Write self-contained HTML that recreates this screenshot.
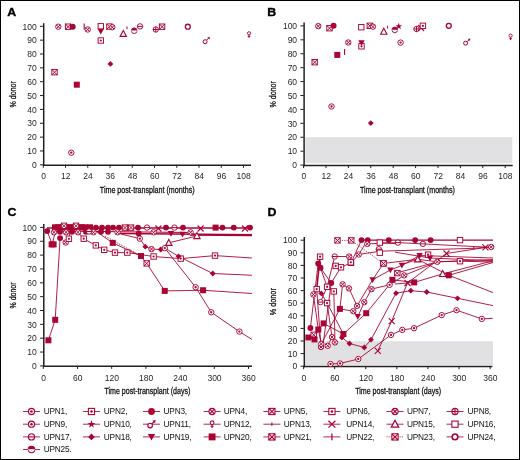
<!DOCTYPE html>
<html><head><meta charset="utf-8"><style>
html,body{margin:0;padding:0;background:#fff;width:520px;height:460px;overflow:hidden}
svg text{font-family:"Liberation Sans",sans-serif}
</style></head><body>
<svg width="520" height="460" viewBox="0 0 520 460" style="position:absolute;left:0;top:0;will-change:transform">
<defs>
<g id="m1"><circle r="2.7" fill="#fff" stroke="#a80434" stroke-width="0.95"/><circle r="1.15" fill="#a80434"/></g>
<g id="m2"><rect x="-2.7" y="-2.7" width="5.4" height="5.4" fill="#fff" stroke="#a80434" stroke-width="0.95"/><circle r="1.1" fill="#a80434"/></g>
<g id="m3"><circle r="2.95" fill="#a80434"/></g>
<g id="m4"><circle r="2.7" fill="#fff" stroke="#a80434" stroke-width="0.95"/><path d="M-1.8-1.8L1.8 1.8M-1.8 1.8L1.8-1.8" stroke="#a80434" stroke-width="1"/></g>
<g id="m8"><circle r="2.7" fill="#fff" stroke="#a80434" stroke-width="0.95"/><path d="M-2.7 0H2.7M0-2.7V2.7" stroke="#a80434" stroke-width="1"/></g>
<g id="m5"><rect x="-2.7" y="-2.7" width="5.4" height="5.4" fill="#fff" stroke="#a80434" stroke-width="0.95"/><path d="M-2.7-2.7L2.7 2.7M-2.7 2.7L2.7-2.7" stroke="#a80434" stroke-width="1"/></g>
<g id="m10"><path d="M0-3.6L0.85-1.1H3.4L1.35 0.45L2.1 3L0 1.45L-2.1 3L-1.35 0.45L-3.4-1.1H-0.85Z" fill="#a80434"/></g>
<g id="m11"><circle cx="-1.2" cy="1.2" r="2" fill="#fff" stroke="#a80434" stroke-width="1"/><path d="M0.3-0.3L2.6-2.6" stroke="#a80434" stroke-width="1" fill="none"/><path d="M3.6-3.6L0.9-3.1L3.1-0.9Z" fill="#a80434"/></g>
<g id="m12"><circle cy="-1.3" r="1.6" fill="#fff" stroke="#a80434" stroke-width="0.9"/><path d="M0 0.3V3.2M-1.3 1.8H1.3" stroke="#a80434" stroke-width="1"/></g>
<g id="m13"><path d="M0-1.4V1.4" stroke="#a80434" stroke-width="1"/></g>
<g id="m14"><path d="M-3-3L3 3M-3 3L3-3" stroke="#a80434" stroke-width="1.1"/></g>
<g id="m15"><path d="M0-3.4L3.2 2.6H-3.2Z" fill="#fff" stroke="#a80434" stroke-width="1.1"/></g>
<g id="m16"><rect x="-2.7" y="-2.7" width="5.4" height="5.4" fill="#fff" stroke="#a80434" stroke-width="0.95"/></g>
<g id="m17"><circle r="2.7" fill="#fff" stroke="#a80434" stroke-width="0.95"/><path d="M-2.7 0H2.7" stroke="#a80434" stroke-width="1"/></g>
<g id="m18"><path d="M0-2.9L2.9 0L0 2.9L-2.9 0Z" fill="#a80434"/></g>
<g id="m19"><path d="M-3.2-2.6H3.2L0 3.2Z" fill="#a80434"/></g>
<g id="m20"><rect x="-3" y="-3" width="6" height="6" fill="#a80434"/></g>
<g id="m22"><path d="M0-3V3" stroke="#a80434" stroke-width="1.1"/></g>
<g id="m24"><circle r="2.45" fill="#fff" stroke="#a80434" stroke-width="1.35"/></g>
<g id="m25"><circle r="2.8" fill="#fff" stroke="#a80434" stroke-width="0.95"/><path d="M-2.8 0A2.8 2.8 0 0 1 2.8 0Z" fill="#a80434"/><path d="M-3 0.3H3" stroke="#fff" stroke-width="0.8"/></g>
</defs>
<rect x="0.5" y="0.5" width="519" height="459" fill="#fff" stroke="#000" stroke-width="1"/>
<path d="M40 164.8H43.3" stroke="#231f20" stroke-width="1"/>
<text x="36.7" y="168" font-size="8.5" text-anchor="end" font-weight="normal" fill="#231f20">0</text>
<path d="M40 150.95H43.3" stroke="#231f20" stroke-width="1"/>
<text x="36.7" y="154.15" font-size="8.5" text-anchor="end" font-weight="normal" fill="#231f20">10</text>
<path d="M40 137.1H43.3" stroke="#231f20" stroke-width="1"/>
<text x="36.7" y="140.3" font-size="8.5" text-anchor="end" font-weight="normal" fill="#231f20">20</text>
<path d="M40 123.25H43.3" stroke="#231f20" stroke-width="1"/>
<text x="36.7" y="126.45" font-size="8.5" text-anchor="end" font-weight="normal" fill="#231f20">30</text>
<path d="M40 109.4H43.3" stroke="#231f20" stroke-width="1"/>
<text x="36.7" y="112.6" font-size="8.5" text-anchor="end" font-weight="normal" fill="#231f20">40</text>
<path d="M40 95.55H43.3" stroke="#231f20" stroke-width="1"/>
<text x="36.7" y="98.75" font-size="8.5" text-anchor="end" font-weight="normal" fill="#231f20">50</text>
<path d="M40 81.7H43.3" stroke="#231f20" stroke-width="1"/>
<text x="36.7" y="84.9" font-size="8.5" text-anchor="end" font-weight="normal" fill="#231f20">60</text>
<path d="M40 67.85H43.3" stroke="#231f20" stroke-width="1"/>
<text x="36.7" y="71.05" font-size="8.5" text-anchor="end" font-weight="normal" fill="#231f20">70</text>
<path d="M40 54H43.3" stroke="#231f20" stroke-width="1"/>
<text x="36.7" y="57.2" font-size="8.5" text-anchor="end" font-weight="normal" fill="#231f20">80</text>
<path d="M40 40.15H43.3" stroke="#231f20" stroke-width="1"/>
<text x="36.7" y="43.35" font-size="8.5" text-anchor="end" font-weight="normal" fill="#231f20">90</text>
<path d="M40 26.3H43.3" stroke="#231f20" stroke-width="1"/>
<text x="36.7" y="29.5" font-size="8.5" text-anchor="end" font-weight="normal" fill="#231f20">100</text>
<path d="M43.3 164.8V167.8" stroke="#231f20" stroke-width="1"/>
<text x="43.5" y="178.9" font-size="8.5" text-anchor="middle" font-weight="normal" fill="#231f20">0</text>
<path d="M65.54 164.8V167.8" stroke="#231f20" stroke-width="1"/>
<text x="65.74" y="178.9" font-size="8.5" text-anchor="middle" font-weight="normal" fill="#231f20">12</text>
<path d="M87.79 164.8V167.8" stroke="#231f20" stroke-width="1"/>
<text x="87.99" y="178.9" font-size="8.5" text-anchor="middle" font-weight="normal" fill="#231f20">24</text>
<path d="M110.03 164.8V167.8" stroke="#231f20" stroke-width="1"/>
<text x="110.23" y="178.9" font-size="8.5" text-anchor="middle" font-weight="normal" fill="#231f20">36</text>
<path d="M132.28 164.8V167.8" stroke="#231f20" stroke-width="1"/>
<text x="132.48" y="178.9" font-size="8.5" text-anchor="middle" font-weight="normal" fill="#231f20">48</text>
<path d="M154.52 164.8V167.8" stroke="#231f20" stroke-width="1"/>
<text x="154.72" y="178.9" font-size="8.5" text-anchor="middle" font-weight="normal" fill="#231f20">60</text>
<path d="M176.77 164.8V167.8" stroke="#231f20" stroke-width="1"/>
<text x="176.97" y="178.9" font-size="8.5" text-anchor="middle" font-weight="normal" fill="#231f20">72</text>
<path d="M199.01 164.8V167.8" stroke="#231f20" stroke-width="1"/>
<text x="199.21" y="178.9" font-size="8.5" text-anchor="middle" font-weight="normal" fill="#231f20">84</text>
<path d="M221.26 164.8V167.8" stroke="#231f20" stroke-width="1"/>
<text x="221.46" y="178.9" font-size="8.5" text-anchor="middle" font-weight="normal" fill="#231f20">96</text>
<path d="M243.5 164.8V167.8" stroke="#231f20" stroke-width="1"/>
<text x="243.7" y="178.9" font-size="8.5" text-anchor="middle" font-weight="normal" fill="#231f20">108</text>
<path d="M43.7 23.2V165.9" stroke="#231f20" stroke-width="1.5"/>
<path d="M43 165.2H251" stroke="#231f20" stroke-width="1.5"/>
<text x="99.8" y="192.7" font-size="9.6" text-anchor="start" font-weight="normal" fill="#111" stroke="#111" stroke-width="0.3" textLength="94.8" lengthAdjust="spacingAndGlyphs">Time post-transplant (months)</text>
<text x="15.9" y="94.3" font-size="9.6" text-anchor="middle" font-weight="normal" fill="#111" stroke="#111" stroke-width="0.3" textLength="26.5" lengthAdjust="spacingAndGlyphs" transform="rotate(-90 15.9 94.3)">% donor</text>
<text x="7.3" y="16.1" font-size="11.7" text-anchor="start" font-weight="bold" fill="#000" stroke="#000" stroke-width="0.35" textLength="8.96" lengthAdjust="spacingAndGlyphs">A</text>
<rect x="305.3" y="137.1" width="207" height="26.1" fill="#e1e1e4"/>
<path d="M300.4 165.1H303.7" stroke="#231f20" stroke-width="1"/>
<text x="297.1" y="168.3" font-size="8.5" text-anchor="end" font-weight="normal" fill="#231f20">0</text>
<path d="M300.4 151.18H303.7" stroke="#231f20" stroke-width="1"/>
<text x="297.1" y="154.38" font-size="8.5" text-anchor="end" font-weight="normal" fill="#231f20">10</text>
<path d="M300.4 137.26H303.7" stroke="#231f20" stroke-width="1"/>
<text x="297.1" y="140.46" font-size="8.5" text-anchor="end" font-weight="normal" fill="#231f20">20</text>
<path d="M300.4 123.34H303.7" stroke="#231f20" stroke-width="1"/>
<text x="297.1" y="126.54" font-size="8.5" text-anchor="end" font-weight="normal" fill="#231f20">30</text>
<path d="M300.4 109.42H303.7" stroke="#231f20" stroke-width="1"/>
<text x="297.1" y="112.62" font-size="8.5" text-anchor="end" font-weight="normal" fill="#231f20">40</text>
<path d="M300.4 95.5H303.7" stroke="#231f20" stroke-width="1"/>
<text x="297.1" y="98.7" font-size="8.5" text-anchor="end" font-weight="normal" fill="#231f20">50</text>
<path d="M300.4 81.58H303.7" stroke="#231f20" stroke-width="1"/>
<text x="297.1" y="84.78" font-size="8.5" text-anchor="end" font-weight="normal" fill="#231f20">60</text>
<path d="M300.4 67.66H303.7" stroke="#231f20" stroke-width="1"/>
<text x="297.1" y="70.86" font-size="8.5" text-anchor="end" font-weight="normal" fill="#231f20">70</text>
<path d="M300.4 53.74H303.7" stroke="#231f20" stroke-width="1"/>
<text x="297.1" y="56.94" font-size="8.5" text-anchor="end" font-weight="normal" fill="#231f20">80</text>
<path d="M300.4 39.82H303.7" stroke="#231f20" stroke-width="1"/>
<text x="297.1" y="43.02" font-size="8.5" text-anchor="end" font-weight="normal" fill="#231f20">90</text>
<path d="M300.4 25.9H303.7" stroke="#231f20" stroke-width="1"/>
<text x="297.1" y="29.1" font-size="8.5" text-anchor="end" font-weight="normal" fill="#231f20">100</text>
<path d="M303.6 165.1V168.1" stroke="#231f20" stroke-width="1"/>
<text x="303.8" y="179.1" font-size="8.5" text-anchor="middle" font-weight="normal" fill="#231f20">0</text>
<path d="M326 165.1V168.1" stroke="#231f20" stroke-width="1"/>
<text x="326.2" y="179.1" font-size="8.5" text-anchor="middle" font-weight="normal" fill="#231f20">12</text>
<path d="M348.4 165.1V168.1" stroke="#231f20" stroke-width="1"/>
<text x="348.6" y="179.1" font-size="8.5" text-anchor="middle" font-weight="normal" fill="#231f20">24</text>
<path d="M370.8 165.1V168.1" stroke="#231f20" stroke-width="1"/>
<text x="371" y="179.1" font-size="8.5" text-anchor="middle" font-weight="normal" fill="#231f20">36</text>
<path d="M393.2 165.1V168.1" stroke="#231f20" stroke-width="1"/>
<text x="393.4" y="179.1" font-size="8.5" text-anchor="middle" font-weight="normal" fill="#231f20">48</text>
<path d="M415.6 165.1V168.1" stroke="#231f20" stroke-width="1"/>
<text x="415.8" y="179.1" font-size="8.5" text-anchor="middle" font-weight="normal" fill="#231f20">60</text>
<path d="M438 165.1V168.1" stroke="#231f20" stroke-width="1"/>
<text x="438.2" y="179.1" font-size="8.5" text-anchor="middle" font-weight="normal" fill="#231f20">72</text>
<path d="M460.4 165.1V168.1" stroke="#231f20" stroke-width="1"/>
<text x="460.6" y="179.1" font-size="8.5" text-anchor="middle" font-weight="normal" fill="#231f20">84</text>
<path d="M482.8 165.1V168.1" stroke="#231f20" stroke-width="1"/>
<text x="483" y="179.1" font-size="8.5" text-anchor="middle" font-weight="normal" fill="#231f20">96</text>
<path d="M505.2 165.1V168.1" stroke="#231f20" stroke-width="1"/>
<text x="505.4" y="179.1" font-size="8.5" text-anchor="middle" font-weight="normal" fill="#231f20">108</text>
<path d="M304.1 22.6V166.2" stroke="#231f20" stroke-width="1.5"/>
<path d="M303.4 165.5H512.7" stroke="#231f20" stroke-width="1.5"/>
<text x="360" y="192.9" font-size="9.6" text-anchor="start" font-weight="normal" fill="#111" stroke="#111" stroke-width="0.3" textLength="95" lengthAdjust="spacingAndGlyphs">Time post-transplant (months)</text>
<text x="275.9" y="94.3" font-size="9.6" text-anchor="middle" font-weight="normal" fill="#111" stroke="#111" stroke-width="0.3" textLength="26.5" lengthAdjust="spacingAndGlyphs" transform="rotate(-90 275.9 94.3)">% donor</text>
<text x="267.3" y="15.6" font-size="11.7" text-anchor="start" font-weight="bold" fill="#000" stroke="#000" stroke-width="0.35" textLength="8.96" lengthAdjust="spacingAndGlyphs">B</text>
<path d="M40.1 365.9H43.4" stroke="#231f20" stroke-width="1"/>
<text x="36.8" y="369.1" font-size="8.5" text-anchor="end" font-weight="normal" fill="#231f20">0</text>
<path d="M40.1 352.05H43.4" stroke="#231f20" stroke-width="1"/>
<text x="36.8" y="355.25" font-size="8.5" text-anchor="end" font-weight="normal" fill="#231f20">10</text>
<path d="M40.1 338.2H43.4" stroke="#231f20" stroke-width="1"/>
<text x="36.8" y="341.4" font-size="8.5" text-anchor="end" font-weight="normal" fill="#231f20">20</text>
<path d="M40.1 324.35H43.4" stroke="#231f20" stroke-width="1"/>
<text x="36.8" y="327.55" font-size="8.5" text-anchor="end" font-weight="normal" fill="#231f20">30</text>
<path d="M40.1 310.5H43.4" stroke="#231f20" stroke-width="1"/>
<text x="36.8" y="313.7" font-size="8.5" text-anchor="end" font-weight="normal" fill="#231f20">40</text>
<path d="M40.1 296.65H43.4" stroke="#231f20" stroke-width="1"/>
<text x="36.8" y="299.85" font-size="8.5" text-anchor="end" font-weight="normal" fill="#231f20">50</text>
<path d="M40.1 282.8H43.4" stroke="#231f20" stroke-width="1"/>
<text x="36.8" y="286" font-size="8.5" text-anchor="end" font-weight="normal" fill="#231f20">60</text>
<path d="M40.1 268.95H43.4" stroke="#231f20" stroke-width="1"/>
<text x="36.8" y="272.15" font-size="8.5" text-anchor="end" font-weight="normal" fill="#231f20">70</text>
<path d="M40.1 255.1H43.4" stroke="#231f20" stroke-width="1"/>
<text x="36.8" y="258.3" font-size="8.5" text-anchor="end" font-weight="normal" fill="#231f20">80</text>
<path d="M40.1 241.25H43.4" stroke="#231f20" stroke-width="1"/>
<text x="36.8" y="244.45" font-size="8.5" text-anchor="end" font-weight="normal" fill="#231f20">90</text>
<path d="M40.1 227.4H43.4" stroke="#231f20" stroke-width="1"/>
<text x="36.8" y="230.6" font-size="8.5" text-anchor="end" font-weight="normal" fill="#231f20">100</text>
<path d="M43.3 365.9V368.9" stroke="#231f20" stroke-width="1"/>
<text x="43.5" y="380.9" font-size="8.5" text-anchor="middle" font-weight="normal" fill="#231f20">0</text>
<path d="M77.5 365.9V368.9" stroke="#231f20" stroke-width="1"/>
<text x="77.7" y="380.9" font-size="8.5" text-anchor="middle" font-weight="normal" fill="#231f20">60</text>
<path d="M111.7 365.9V368.9" stroke="#231f20" stroke-width="1"/>
<text x="111.9" y="380.9" font-size="8.5" text-anchor="middle" font-weight="normal" fill="#231f20">120</text>
<path d="M145.9 365.9V368.9" stroke="#231f20" stroke-width="1"/>
<text x="146.1" y="380.9" font-size="8.5" text-anchor="middle" font-weight="normal" fill="#231f20">180</text>
<path d="M180.1 365.9V368.9" stroke="#231f20" stroke-width="1"/>
<text x="180.3" y="380.9" font-size="8.5" text-anchor="middle" font-weight="normal" fill="#231f20">240</text>
<path d="M214.3 365.9V368.9" stroke="#231f20" stroke-width="1"/>
<text x="214.5" y="380.9" font-size="8.5" text-anchor="middle" font-weight="normal" fill="#231f20">300</text>
<path d="M248.5 365.9V368.9" stroke="#231f20" stroke-width="1"/>
<text x="248.7" y="380.9" font-size="8.5" text-anchor="middle" font-weight="normal" fill="#231f20">360</text>
<path d="M43.8 224.1V367" stroke="#231f20" stroke-width="1.5"/>
<path d="M43.1 366.3H252" stroke="#231f20" stroke-width="1.5"/>
<text x="104.4" y="393.5" font-size="9.6" text-anchor="start" font-weight="normal" fill="#111" stroke="#111" stroke-width="0.3" textLength="86" lengthAdjust="spacingAndGlyphs">Time post-transplant (days)</text>
<text x="16.1" y="295.5" font-size="9.6" text-anchor="middle" font-weight="normal" fill="#111" stroke="#111" stroke-width="0.3" textLength="26.1" lengthAdjust="spacingAndGlyphs" transform="rotate(-90 16.1 295.5)">% donor</text>
<text x="7.6" y="216" font-size="11.7" text-anchor="start" font-weight="bold" fill="#000" stroke="#000" stroke-width="0.35" textLength="8.96" lengthAdjust="spacingAndGlyphs">C</text>
<rect x="305.3" y="341.2" width="187.7" height="23.8" fill="#e1e1e4"/>
<path d="M300.6 366.2H303.9" stroke="#231f20" stroke-width="1"/>
<text x="297.3" y="369.4" font-size="8.5" text-anchor="end" font-weight="normal" fill="#231f20">0</text>
<path d="M300.6 353.6H303.9" stroke="#231f20" stroke-width="1"/>
<text x="297.3" y="356.8" font-size="8.5" text-anchor="end" font-weight="normal" fill="#231f20">10</text>
<path d="M300.6 341H303.9" stroke="#231f20" stroke-width="1"/>
<text x="297.3" y="344.2" font-size="8.5" text-anchor="end" font-weight="normal" fill="#231f20">20</text>
<path d="M300.6 328.4H303.9" stroke="#231f20" stroke-width="1"/>
<text x="297.3" y="331.6" font-size="8.5" text-anchor="end" font-weight="normal" fill="#231f20">30</text>
<path d="M300.6 315.8H303.9" stroke="#231f20" stroke-width="1"/>
<text x="297.3" y="319" font-size="8.5" text-anchor="end" font-weight="normal" fill="#231f20">40</text>
<path d="M300.6 303.2H303.9" stroke="#231f20" stroke-width="1"/>
<text x="297.3" y="306.4" font-size="8.5" text-anchor="end" font-weight="normal" fill="#231f20">50</text>
<path d="M300.6 290.6H303.9" stroke="#231f20" stroke-width="1"/>
<text x="297.3" y="293.8" font-size="8.5" text-anchor="end" font-weight="normal" fill="#231f20">60</text>
<path d="M300.6 278H303.9" stroke="#231f20" stroke-width="1"/>
<text x="297.3" y="281.2" font-size="8.5" text-anchor="end" font-weight="normal" fill="#231f20">70</text>
<path d="M300.6 265.4H303.9" stroke="#231f20" stroke-width="1"/>
<text x="297.3" y="268.6" font-size="8.5" text-anchor="end" font-weight="normal" fill="#231f20">80</text>
<path d="M300.6 252.8H303.9" stroke="#231f20" stroke-width="1"/>
<text x="297.3" y="256" font-size="8.5" text-anchor="end" font-weight="normal" fill="#231f20">90</text>
<path d="M300.6 240.2H303.9" stroke="#231f20" stroke-width="1"/>
<text x="297.3" y="243.4" font-size="8.5" text-anchor="end" font-weight="normal" fill="#231f20">100</text>
<path d="M303.6 366.2V369.2" stroke="#231f20" stroke-width="1"/>
<text x="303.8" y="380.9" font-size="8.5" text-anchor="middle" font-weight="normal" fill="#231f20">0</text>
<path d="M334.68 366.2V369.2" stroke="#231f20" stroke-width="1"/>
<text x="334.88" y="380.9" font-size="8.5" text-anchor="middle" font-weight="normal" fill="#231f20">60</text>
<path d="M365.77 366.2V369.2" stroke="#231f20" stroke-width="1"/>
<text x="365.97" y="380.9" font-size="8.5" text-anchor="middle" font-weight="normal" fill="#231f20">120</text>
<path d="M396.85 366.2V369.2" stroke="#231f20" stroke-width="1"/>
<text x="397.05" y="380.9" font-size="8.5" text-anchor="middle" font-weight="normal" fill="#231f20">180</text>
<path d="M427.93 366.2V369.2" stroke="#231f20" stroke-width="1"/>
<text x="428.13" y="380.9" font-size="8.5" text-anchor="middle" font-weight="normal" fill="#231f20">240</text>
<path d="M459.02 366.2V369.2" stroke="#231f20" stroke-width="1"/>
<text x="459.22" y="380.9" font-size="8.5" text-anchor="middle" font-weight="normal" fill="#231f20">300</text>
<path d="M490.1 366.2V369.2" stroke="#231f20" stroke-width="1"/>
<text x="490.3" y="380.9" font-size="8.5" text-anchor="middle" font-weight="normal" fill="#231f20">360</text>
<path d="M304.3 237V367.3" stroke="#231f20" stroke-width="1.5"/>
<path d="M303.6 366.6H492.4" stroke="#231f20" stroke-width="1.5"/>
<text x="355.2" y="393.5" font-size="9.6" text-anchor="start" font-weight="normal" fill="#111" stroke="#111" stroke-width="0.3" textLength="85.9" lengthAdjust="spacingAndGlyphs">Time post-transplant (days)</text>
<text x="276.3" y="301.7" font-size="9.6" text-anchor="middle" font-weight="normal" fill="#111" stroke="#111" stroke-width="0.3" textLength="27" lengthAdjust="spacingAndGlyphs" transform="rotate(-90 276.3 301.7)">% donor</text>
<text x="267.6" y="216.1" font-size="11.7" text-anchor="start" font-weight="bold" fill="#000" stroke="#000" stroke-width="0.35" textLength="8.96" lengthAdjust="spacingAndGlyphs">D</text>
<use href="#m4" x="58.3" y="26.7"/>
<use href="#m5" x="68.1" y="26.7"/>
<use href="#m3" x="72.7" y="26.7"/>
<use href="#m22" x="84.2" y="26.4"/>
<use href="#m4" x="87.7" y="29.5"/>
<use href="#m16" x="100.8" y="26.3"/>
<use href="#m19" x="100.8" y="31.3"/>
<use href="#m2" x="100.8" y="40.5"/>
<use href="#m5" x="109.4" y="26.6"/>
<use href="#m4" x="112.3" y="27.2"/>
<use href="#m15" x="123.3" y="33.8"/>
<use href="#m13" x="127" y="27.8"/>
<use href="#m25" x="134.2" y="30.7"/>
<use href="#m17" x="140" y="26.4"/>
<use href="#m8" x="155.8" y="29.5"/>
<use href="#m5" x="162.1" y="26.7"/>
<use href="#m24" x="187.8" y="26.7"/>
<use href="#m11" x="206.3" y="40.5"/>
<use href="#m12" x="249" y="34.6"/>
<use href="#m18" x="110.4" y="63.9"/>
<use href="#m5" x="54.5" y="72.2"/>
<use href="#m20" x="76.8" y="84.7"/>
<use href="#m1" x="71.3" y="152.7"/>
<use href="#m4" x="318.3" y="26.1"/>
<use href="#m5" x="329.5" y="28.2"/>
<use href="#m3" x="333.6" y="25.8"/>
<use href="#m16" x="361.3" y="27.2"/>
<use href="#m4" x="348.3" y="42.5"/>
<use href="#m2" x="361.5" y="46.3"/>
<use href="#m19" x="361.5" y="42.8"/>
<use href="#m22" x="344.6" y="52"/>
<use href="#m20" x="337.3" y="54.9"/>
<use href="#m5" x="369.8" y="25.8"/>
<use href="#m4" x="372.9" y="26.65"/>
<use href="#m15" x="383.8" y="31.6"/>
<use href="#m13" x="387.6" y="27.2"/>
<use href="#m25" x="394.8" y="29.9"/>
<use href="#m10" x="398.8" y="26.3"/>
<use href="#m1" x="400.6" y="42.6"/>
<use href="#m8" x="416.5" y="29"/>
<use href="#m14" x="421.1" y="28"/>
<use href="#m2" x="422.9" y="25.8"/>
<use href="#m24" x="448.8" y="25.8"/>
<use href="#m11" x="466.8" y="42"/>
<use href="#m12" x="510.6" y="36.9"/>
<use href="#m5" x="314.7" y="62.2"/>
<use href="#m1" x="331.5" y="106.5"/>
<use href="#m18" x="370.8" y="123.1"/>
<path d="M48.4 340.3 L55.2 319.8 L60.1 238.1" fill="none" stroke="#a80434" stroke-width="0.9" stroke-opacity="1.0"/>
<path d="M47.2 231.1 L52.2 244.4 L55 233" fill="none" stroke="#a80434" stroke-width="0.9" stroke-opacity="1.0"/>
<path d="M70 232 L68.9 238.75" fill="none" stroke="#a80434" stroke-width="0.9" stroke-opacity="1.0"/>
<path d="M78 232 L83.7 238.7 L95.8 245.4 L104.2 249.8 L115 252.6 L127.3 252.6 L153.6 256.5 L180.7 258.6 L215 255.6 L251.9 258" fill="none" stroke="#a80434" stroke-width="0.9" stroke-opacity="1.0"/>
<path d="M97 232 L112.75 242.9 L141 256 L146.7 263.4 L164.75 290.9 L203.1 290.25 L251.9 293.5" fill="none" stroke="#a80434" stroke-width="0.9" stroke-opacity="1.0"/>
<path d="M105 236 L141 256" fill="none" stroke="#a80434" stroke-width="0.9" stroke-opacity="1.0" stroke-dasharray="1 1"/>
<path d="M121 234 L139.8 238.65 L145.3 246.7 L151.5 249.1 L160.7 249.5 L164.8 248.1 L168.8 242.8 L196.9 236" fill="none" stroke="#a80434" stroke-width="0.9" stroke-opacity="1.0"/>
<path d="M164.8 248.1 L178.5 256.3 L212.75 273.5 L251.9 275.25" fill="none" stroke="#a80434" stroke-width="0.9" stroke-opacity="1.0"/>
<path d="M164.8 248.1 L195.6 287.25 L211.25 312.25 L239.4 331.6 L251.9 339.4" fill="none" stroke="#a80434" stroke-width="0.9" stroke-opacity="1.0"/>
<path d="M47 228 L252 228" fill="none" stroke="#a80434" stroke-width="1.6" stroke-opacity="1.0"/>
<path d="M52 231 L190 232.5" fill="none" stroke="#a80434" stroke-width="1.2" stroke-opacity="1.0"/>
<path d="M120 233.5 L252 234.8" fill="none" stroke="#a80434" stroke-width="1.4" stroke-opacity="1.0"/>
<path d="M190 235.2 L252 235.6" fill="none" stroke="#a80434" stroke-width="1.2" stroke-opacity="1.0"/>
<use href="#m3" x="96" y="227.6"/>
<use href="#m3" x="102" y="227.6"/>
<use href="#m3" x="108" y="227.6"/>
<use href="#m3" x="113" y="227.6"/>
<use href="#m3" x="119" y="227.6"/>
<use href="#m3" x="127" y="227.6"/>
<use href="#m3" x="138" y="227.6"/>
<use href="#m3" x="166" y="227.6"/>
<use href="#m3" x="183" y="227.6"/>
<use href="#m3" x="222.5" y="227.6"/>
<use href="#m3" x="233.75" y="227.6"/>
<use href="#m3" x="250" y="227.6"/>
<use href="#m20" x="55" y="227.3"/>
<use href="#m20" x="61" y="227.3"/>
<use href="#m20" x="67" y="227.3"/>
<use href="#m20" x="73" y="227.3"/>
<use href="#m20" x="79" y="227.3"/>
<use href="#m20" x="85" y="227.3"/>
<use href="#m20" x="90" y="227.3"/>
<use href="#m20" x="58" y="227.3"/>
<use href="#m20" x="70" y="227.3"/>
<use href="#m20" x="82" y="227.3"/>
<use href="#m20" x="215.6" y="227.6"/>
<use href="#m17" x="147" y="227.6"/>
<use href="#m17" x="174.4" y="227.6"/>
<use href="#m14" x="158.4" y="228.5"/>
<use href="#m14" x="200.6" y="228.5"/>
<use href="#m14" x="245" y="228.5"/>
<use href="#m5" x="125" y="227.6"/>
<use href="#m5" x="131" y="227.6"/>
<use href="#m4" x="54" y="232.3"/>
<use href="#m4" x="66" y="232.3"/>
<use href="#m4" x="78" y="232.3"/>
<use href="#m4" x="93.5" y="232.3"/>
<use href="#m4" x="117.5" y="232.3"/>
<use href="#m4" x="153.6" y="232.3"/>
<use href="#m4" x="190.6" y="232.3"/>
<use href="#m3" x="60" y="231.8"/>
<use href="#m3" x="72" y="231.8"/>
<use href="#m3" x="86" y="231.8"/>
<use href="#m3" x="101" y="231.8"/>
<use href="#m3" x="108" y="231.8"/>
<use href="#m5" x="64" y="225.8"/>
<use href="#m5" x="76" y="225.8"/>
<use href="#m17" x="89" y="231.5"/>
<use href="#m3" x="138.7" y="233.5"/>
<use href="#m19" x="171" y="233.5"/>
<use href="#m19" x="182.5" y="234.4"/>
<use href="#m15" x="196.9" y="236"/>
<use href="#m3" x="47.2" y="231.1"/>
<use href="#m20" x="53.6" y="244.4"/>
<use href="#m20" x="51.6" y="244.4"/>
<use href="#m20" x="48.4" y="340.3"/>
<use href="#m20" x="55.2" y="319.8"/>
<use href="#m3" x="60.1" y="238.1"/>
<use href="#m4" x="65.75" y="242.5"/>
<use href="#m2" x="68.9" y="238.75"/>
<use href="#m2" x="83.7" y="238.7"/>
<use href="#m2" x="95.8" y="245.4"/>
<use href="#m2" x="104.2" y="249.8"/>
<use href="#m2" x="115" y="252.6"/>
<use href="#m2" x="127.3" y="252.6"/>
<use href="#m2" x="153.6" y="256.5"/>
<use href="#m2" x="180.7" y="258.6"/>
<use href="#m2" x="215" y="255.6"/>
<use href="#m20" x="112.75" y="242.9"/>
<use href="#m20" x="141" y="256"/>
<use href="#m5" x="146.7" y="263.4"/>
<use href="#m20" x="164.75" y="290.9"/>
<use href="#m20" x="203.1" y="290.25"/>
<use href="#m18" x="145.3" y="246.7"/>
<use href="#m18" x="160.7" y="249.5"/>
<use href="#m18" x="178.5" y="256.3"/>
<use href="#m18" x="212.75" y="273.5"/>
<use href="#m1" x="139.8" y="238.65"/>
<use href="#m1" x="195.6" y="287.25"/>
<use href="#m1" x="211.25" y="312.25"/>
<use href="#m1" x="239.4" y="331.6"/>
<use href="#m4" x="151.5" y="249.1"/>
<use href="#m1" x="164.8" y="248.1"/>
<use href="#m15" x="168.8" y="242.8"/>
<path d="M337.5 240.4 L351.3 240.4 L383.3 263.4" fill="none" stroke="#a80434" stroke-width="0.9" stroke-opacity="1.0" stroke-dasharray="1 1.3"/>
<path d="M361.5 240.1 L493 240.1" fill="none" stroke="#a80434" stroke-width="1.4" stroke-opacity="1.0"/>
<path d="M397.9 242.6 L422.9 243.9 L491 247.4" fill="none" stroke="#a80434" stroke-width="0.9" stroke-opacity="1.0"/>
<path d="M367.3 243.9 L397.9 242.6" fill="none" stroke="#a80434" stroke-width="0.9" stroke-opacity="1.0"/>
<path d="M379.8 242.6 L400 244" fill="none" stroke="#a80434" stroke-width="0.9" stroke-opacity="1.0"/>
<path d="M330.5 364 L340.1 363.5 L358.3 359 L391 334.9 L402.3 329.9 L414 328.2 L441.7 315.1 L456.5 310.2 L481.8 318.9 L492.8 318.3" fill="none" stroke="#a80434" stroke-width="0.9" stroke-opacity="1.0"/>
<path d="M321.3 293.4 L327.1 303.1 L343.4 334 L341.9 337.5 L349.5 343.5 L364.3 347.5 L371 339.7 L396 293.2 L410.8 290.7 L426.7 292 L457.5 298.3 L493 305.6" fill="none" stroke="#a80434" stroke-width="0.9" stroke-opacity="1.0"/>
<path d="M320.1 256.7 L316.7 289.1 L313.4 294.5" fill="none" stroke="#a80434" stroke-width="1.6" stroke-opacity="1.0"/>
<path d="M318.2 263.5 L320.5 267.8 L331.2 283" fill="none" stroke="#a80434" stroke-width="0.9" stroke-opacity="1.0"/>
<path d="M318.2 263.5 L310.4 328" fill="none" stroke="#a80434" stroke-width="0.9" stroke-opacity="1.0"/>
<path d="M320.5 267.8 L327.1 286.8" fill="none" stroke="#a80434" stroke-width="0.9" stroke-opacity="1.0"/>
<path d="M331.2 283 L322.8 347" fill="none" stroke="#a80434" stroke-width="0.9" stroke-opacity="1.0"/>
<path d="M334.7 256.5 L349.2 256.5" fill="none" stroke="#a80434" stroke-width="0.9" stroke-opacity="1.0"/>
<path d="M334.7 256.5 L327.1 286.8 L320.5 302.1" fill="none" stroke="#a80434" stroke-width="0.9" stroke-opacity="1.0"/>
<path d="M331.2 283 L341 267.3 L351 262.8 L358.7 254.5 L367.7 240.1" fill="none" stroke="#a80434" stroke-width="0.9" stroke-opacity="1.0"/>
<path d="M335.7 265.9 L341 267.3" fill="none" stroke="#a80434" stroke-width="0.9" stroke-opacity="1.0"/>
<path d="M351 262.8 L361.5 240.1" fill="none" stroke="#a80434" stroke-width="0.9" stroke-opacity="1.0"/>
<path d="M358.7 254.5 L379.8 251.2 L473.8 248.3 L491.2 247" fill="none" stroke="#a80434" stroke-width="0.9" stroke-opacity="1.0"/>
<path d="M313.4 294.5 L318.3 329.5 L321.3 343.9" fill="none" stroke="#a80434" stroke-width="0.9" stroke-opacity="1.0"/>
<path d="M316.7 289.1 L321 347" fill="none" stroke="#a80434" stroke-width="0.9" stroke-opacity="1.0"/>
<path d="M308.4 337.5 L314.5 339.4 L318.3 329.5 L323.6 323.4 L343.4 334" fill="none" stroke="#a80434" stroke-width="0.9" stroke-opacity="1.0"/>
<path d="M342.6 284.3 L339.9 308.9 L321.3 343.9" fill="none" stroke="#a80434" stroke-width="0.9" stroke-opacity="1.0"/>
<path d="M339.9 308.9 L353.3 311.2 L357.8 316.5" fill="none" stroke="#a80434" stroke-width="0.9" stroke-opacity="1.0"/>
<path d="M333.8 291.4 L335 342.4" fill="none" stroke="#a80434" stroke-width="0.9" stroke-opacity="1.0"/>
<path d="M327.7 345.8 L332 337.1 L327.1 303.1" fill="none" stroke="#a80434" stroke-width="0.9" stroke-opacity="1.0"/>
<path d="M343.4 334 L366.2 313.2 L390 284.1 L392.4 279.8" fill="none" stroke="#a80434" stroke-width="0.9" stroke-opacity="1.0"/>
<path d="M342.6 284.3 L349 288.4 L357.1 305.9 L372.6 279.8 L383.5 263.4 L417.7 259.3" fill="none" stroke="#a80434" stroke-width="0.9" stroke-opacity="1.0"/>
<path d="M357.8 316.5 L364.3 302.2 L371.5 289.1 L389.6 284.8 L404.2 275.4 L437.3 261.8 L493 259.5" fill="none" stroke="#a80434" stroke-width="0.9" stroke-opacity="1.0"/>
<path d="M372.6 279.8 L390.4 270 L401.9 265.4 L419.6 255.5 L493 258" fill="none" stroke="#a80434" stroke-width="0.9" stroke-opacity="1.0"/>
<path d="M377.8 350.9 L391.7 321.1 L407.5 283 L446.5 253.5 L485.4 247.4" fill="none" stroke="#a80434" stroke-width="0.9" stroke-opacity="1.0"/>
<path d="M395 284 L414.2 282.4 L442.7 273.9 L493 260.8" fill="none" stroke="#a80434" stroke-width="0.9" stroke-opacity="1.0"/>
<path d="M417.7 259.3 L448.8 275.3 L493 292.6" fill="none" stroke="#a80434" stroke-width="0.9" stroke-opacity="1.0"/>
<path d="M448.8 275.3 L493 262.5" fill="none" stroke="#a80434" stroke-width="0.9" stroke-opacity="1.0"/>
<path d="M395 252.2 L430 258 L493 260.8" fill="none" stroke="#a80434" stroke-width="0.9" stroke-opacity="1.0"/>
<path d="M401.7 264.7 L417.7 259.3 L437.3 261.8 L460 261.2 L493 262" fill="none" stroke="#a80434" stroke-width="0.9" stroke-opacity="1.0"/>
<path d="M392.4 279.8 L414.2 282.4" fill="none" stroke="#a80434" stroke-width="0.9" stroke-opacity="1.0"/>
<path d="M397.3 272.8 L437.3 261.8" fill="none" stroke="#a80434" stroke-width="0.9" stroke-opacity="1.0"/>
<path d="M441 300 L473.8 248.3" fill="none" stroke="#a80434" stroke-width="0" stroke-opacity="1.0"/>
<use href="#m5" x="337.5" y="240.4"/>
<use href="#m5" x="351.3" y="240.4"/>
<use href="#m5" x="383.3" y="263.4"/>
<use href="#m3" x="361.5" y="240.1"/>
<use href="#m3" x="367.7" y="240.1"/>
<use href="#m3" x="388.8" y="240.1"/>
<use href="#m3" x="415.2" y="240.1"/>
<use href="#m3" x="430.6" y="240.1"/>
<use href="#m16" x="379.8" y="242.6"/>
<use href="#m16" x="460" y="240.1"/>
<use href="#m17" x="397.9" y="242.6"/>
<use href="#m17" x="422.9" y="243.9"/>
<use href="#m4" x="367.3" y="243.9"/>
<use href="#m17" x="378.8" y="249.2"/>
<use href="#m16" x="379.8" y="252.7"/>
<use href="#m2" x="320.1" y="256.7"/>
<use href="#m3" x="318.2" y="263.5"/>
<use href="#m3" x="320.5" y="267.8"/>
<use href="#m17" x="334.7" y="256.5"/>
<use href="#m4" x="349.2" y="256.5"/>
<use href="#m4" x="358.7" y="254.5"/>
<use href="#m2" x="335.7" y="265.9"/>
<use href="#m2" x="341" y="267.3"/>
<use href="#m2" x="351" y="262.8"/>
<use href="#m3" x="331.2" y="283"/>
<use href="#m2" x="327.1" y="286.8"/>
<use href="#m2" x="333.8" y="291.4"/>
<use href="#m4" x="342.6" y="284.3"/>
<use href="#m4" x="349" y="288.4"/>
<use href="#m2" x="316.7" y="289.1"/>
<use href="#m4" x="313.4" y="294.5"/>
<use href="#m18" x="321.3" y="293.4"/>
<use href="#m17" x="320.5" y="302.1"/>
<use href="#m2" x="327.1" y="303.1"/>
<use href="#m20" x="339.9" y="308.9"/>
<use href="#m3" x="310.4" y="328"/>
<use href="#m20" x="308.4" y="337.5"/>
<use href="#m5" x="313.7" y="334.8"/>
<use href="#m20" x="314.5" y="339.4"/>
<use href="#m20" x="318.3" y="329.5"/>
<use href="#m20" x="323.6" y="323.4"/>
<use href="#m4" x="321" y="347"/>
<use href="#m4" x="321.3" y="343.9"/>
<use href="#m4" x="327.7" y="345.8"/>
<use href="#m4" x="332" y="337.1"/>
<use href="#m4" x="335" y="342.4"/>
<use href="#m20" x="343.4" y="334"/>
<use href="#m18" x="341.9" y="337.5"/>
<use href="#m18" x="349.5" y="343.5"/>
<use href="#m18" x="364.3" y="347.5"/>
<use href="#m18" x="371" y="339.7"/>
<use href="#m14" x="377.8" y="350.9"/>
<use href="#m1" x="340.1" y="363.5"/>
<use href="#m1" x="330.5" y="364"/>
<use href="#m1" x="358.3" y="359"/>
<use href="#m1" x="391" y="334.9"/>
<use href="#m1" x="402.3" y="329.9"/>
<use href="#m1" x="414" y="328.2"/>
<use href="#m1" x="441.7" y="315.1"/>
<use href="#m1" x="456.5" y="310.2"/>
<use href="#m1" x="481.8" y="318.9"/>
<use href="#m14" x="391.7" y="321.1"/>
<use href="#m18" x="396" y="293.2"/>
<use href="#m18" x="410.8" y="290.7"/>
<use href="#m18" x="426.7" y="292"/>
<use href="#m18" x="457.5" y="298.3"/>
<use href="#m2" x="350.8" y="262.3"/>
<use href="#m5" x="383.5" y="263.4"/>
<use href="#m19" x="401.9" y="265.4"/>
<use href="#m19" x="390.4" y="270"/>
<use href="#m5" x="397.3" y="273.1"/>
<use href="#m4" x="404.2" y="275.4"/>
<use href="#m19" x="372.6" y="279.8"/>
<use href="#m20" x="392.4" y="279.8"/>
<use href="#m1" x="389.6" y="284.8"/>
<use href="#m14" x="407.5" y="283"/>
<use href="#m20" x="414.2" y="282.4"/>
<use href="#m4" x="371.5" y="289.1"/>
<use href="#m4" x="364.3" y="302.2"/>
<use href="#m4" x="357.1" y="305.9"/>
<use href="#m20" x="366.2" y="313.2"/>
<use href="#m4" x="353.3" y="311.2"/>
<use href="#m19" x="357.8" y="316.5"/>
<use href="#m2" x="428.1" y="254.7"/>
<use href="#m14" x="446.5" y="253.5"/>
<use href="#m15" x="417.7" y="259.3"/>
<use href="#m19" x="419.6" y="255.5"/>
<use href="#m19" x="430" y="258"/>
<use href="#m4" x="437.3" y="261.8"/>
<use href="#m2" x="460" y="261.2"/>
<use href="#m15" x="442.7" y="273.9"/>
<use href="#m20" x="448.8" y="275.3"/>
<use href="#m13" x="473.8" y="248.3"/>
<use href="#m14" x="485.4" y="247.4"/>
<use href="#m4" x="491.2" y="247"/>
<path d="M23 411.5 L40 411.5" fill="none" stroke="#a80434" stroke-width="1.0" stroke-opacity="0.85"/>
<use href="#m1" transform="translate(31.5 411.5) scale(1.15)"/>
<text x="43.7" y="414.4" font-size="8.3" text-anchor="start" font-weight="normal" fill="#111" letter-spacing="-0.2">UPN1,</text>
<path d="M83 411.5 L100 411.5" fill="none" stroke="#a80434" stroke-width="1.0" stroke-opacity="0.85"/>
<use href="#m2" transform="translate(91.5 411.5) scale(1.15)"/>
<text x="103.8" y="414.4" font-size="8.3" text-anchor="start" font-weight="normal" fill="#111" letter-spacing="-0.2">UPN2,</text>
<path d="M143 411.5 L160 411.5" fill="none" stroke="#a80434" stroke-width="1.0" stroke-opacity="0.85"/>
<use href="#m3" transform="translate(151.5 411.5) scale(1.15)"/>
<text x="163.5" y="414.4" font-size="8.3" text-anchor="start" font-weight="normal" fill="#111" letter-spacing="-0.2">UPN3,</text>
<path d="M203.6 411.5 L220.6 411.5" fill="none" stroke="#a80434" stroke-width="1.0" stroke-opacity="0.85"/>
<use href="#m4" transform="translate(212.1 411.5) scale(1.15)"/>
<text x="223.7" y="414.4" font-size="8.3" text-anchor="start" font-weight="normal" fill="#111" letter-spacing="-0.2">UPN4,</text>
<path d="M263.4 411.5 L280.4 411.5" fill="none" stroke="#a80434" stroke-width="1.0" stroke-opacity="0.85"/>
<use href="#m5" transform="translate(271.9 411.5) scale(1.15)"/>
<text x="283.8" y="414.4" font-size="8.3" text-anchor="start" font-weight="normal" fill="#111" letter-spacing="-0.2">UPN5,</text>
<path d="M323.4 411.5 L340.4 411.5" fill="none" stroke="#a80434" stroke-width="1.0" stroke-opacity="0.85"/>
<use href="#m2" transform="translate(331.9 411.5) scale(1.15)"/>
<text x="346.3" y="414.4" font-size="8.3" text-anchor="start" font-weight="normal" fill="#111" letter-spacing="-0.2">UPN6,</text>
<path d="M386.5 411.5 L403.5 411.5" fill="none" stroke="#a80434" stroke-width="1.0" stroke-opacity="0.85"/>
<use href="#m4" transform="translate(395 411.5) scale(1.15)"/>
<text x="406.9" y="414.4" font-size="8.3" text-anchor="start" font-weight="normal" fill="#111" letter-spacing="-0.2">UPN7,</text>
<path d="M446.5 411.5 L463.5 411.5" fill="none" stroke="#a80434" stroke-width="1.0" stroke-opacity="0.85"/>
<use href="#m8" transform="translate(455 411.5) scale(1.15)"/>
<text x="467.5" y="414.4" font-size="8.3" text-anchor="start" font-weight="normal" fill="#111" letter-spacing="-0.2">UPN8,</text>
<path d="M23 424.2 L40 424.2" fill="none" stroke="#a80434" stroke-width="1.0" stroke-opacity="0.85"/>
<use href="#m1" transform="translate(31.5 424.2) scale(1.15)"/>
<text x="43.7" y="427.1" font-size="8.3" text-anchor="start" font-weight="normal" fill="#111" letter-spacing="-0.2">UPN9,</text>
<path d="M83 424.2 L100 424.2" fill="none" stroke="#a80434" stroke-width="1.0" stroke-opacity="0.85"/>
<use href="#m10" transform="translate(91.5 424.2) scale(1.15)"/>
<text x="103.8" y="427.1" font-size="8.3" text-anchor="start" font-weight="normal" fill="#111" letter-spacing="-0.2">UPN10,</text>
<path d="M143 424.2 L160 424.2" fill="none" stroke="#a80434" stroke-width="1.0" stroke-opacity="0.85"/>
<use href="#m11" transform="translate(151.5 424.2) scale(1.15)"/>
<text x="163.5" y="427.1" font-size="8.3" text-anchor="start" font-weight="normal" fill="#111" letter-spacing="-0.2">UPN11,</text>
<path d="M203.6 424.2 L220.6 424.2" fill="none" stroke="#a80434" stroke-width="1.0" stroke-opacity="0.85"/>
<use href="#m12" transform="translate(212.1 424.2) scale(1.15)"/>
<text x="223.7" y="427.1" font-size="8.3" text-anchor="start" font-weight="normal" fill="#111" letter-spacing="-0.2">UPN12,</text>
<path d="M263.4 424.2 L280.4 424.2" fill="none" stroke="#a80434" stroke-width="1.0" stroke-opacity="0.85"/>
<use href="#m13" transform="translate(271.9 424.2) scale(1.15)"/>
<text x="283.8" y="427.1" font-size="8.3" text-anchor="start" font-weight="normal" fill="#111" letter-spacing="-0.2">UPN13,</text>
<path d="M323.4 424.2 L340.4 424.2" fill="none" stroke="#a80434" stroke-width="1.0" stroke-opacity="0.85"/>
<use href="#m14" transform="translate(331.9 424.2) scale(1.15)"/>
<text x="346.3" y="427.1" font-size="8.3" text-anchor="start" font-weight="normal" fill="#111" letter-spacing="-0.2">UPN14,</text>
<path d="M386.5 424.2 L403.5 424.2" fill="none" stroke="#a80434" stroke-width="1.0" stroke-opacity="0.85"/>
<use href="#m15" transform="translate(395 424.2) scale(1.15)"/>
<text x="406.9" y="427.1" font-size="8.3" text-anchor="start" font-weight="normal" fill="#111" letter-spacing="-0.2">UPN15,</text>
<path d="M446.5 424.2 L463.5 424.2" fill="none" stroke="#a80434" stroke-width="1.0" stroke-opacity="0.85"/>
<use href="#m16" transform="translate(455 424.2) scale(1.15)"/>
<text x="467.5" y="427.1" font-size="8.3" text-anchor="start" font-weight="normal" fill="#111" letter-spacing="-0.2">UPN16,</text>
<path d="M23 436.9 L40 436.9" fill="none" stroke="#a80434" stroke-width="1.0" stroke-opacity="0.85"/>
<use href="#m17" transform="translate(31.5 436.9) scale(1.15)"/>
<text x="43.7" y="439.8" font-size="8.3" text-anchor="start" font-weight="normal" fill="#111" letter-spacing="-0.2">UPN17,</text>
<path d="M83 436.9 L100 436.9" fill="none" stroke="#a80434" stroke-width="1.0" stroke-opacity="0.85"/>
<use href="#m18" transform="translate(91.5 436.9) scale(1.15)"/>
<text x="103.8" y="439.8" font-size="8.3" text-anchor="start" font-weight="normal" fill="#111" letter-spacing="-0.2">UPN18,</text>
<path d="M143 436.9 L160 436.9" fill="none" stroke="#a80434" stroke-width="1.0" stroke-opacity="0.85"/>
<use href="#m19" transform="translate(151.5 436.9) scale(1.15)"/>
<text x="163.5" y="439.8" font-size="8.3" text-anchor="start" font-weight="normal" fill="#111" letter-spacing="-0.2">UPN19,</text>
<path d="M203.6 436.9 L220.6 436.9" fill="none" stroke="#a80434" stroke-width="1.0" stroke-opacity="0.85"/>
<use href="#m20" transform="translate(212.1 436.9) scale(1.15)"/>
<text x="223.7" y="439.8" font-size="8.3" text-anchor="start" font-weight="normal" fill="#111" letter-spacing="-0.2">UPN20,</text>
<path d="M263.4 436.9 L280.4 436.9" fill="none" stroke="#a80434" stroke-width="1.0" stroke-opacity="0.85"/>
<use href="#m5" transform="translate(271.9 436.9) scale(1.15)"/>
<text x="283.8" y="439.8" font-size="8.3" text-anchor="start" font-weight="normal" fill="#111" letter-spacing="-0.2">UPN21,</text>
<path d="M323.4 436.9 L340.4 436.9" fill="none" stroke="#a80434" stroke-width="1.0" stroke-opacity="0.85"/>
<use href="#m22" transform="translate(331.9 436.9) scale(1.15)"/>
<text x="346.3" y="439.8" font-size="8.3" text-anchor="start" font-weight="normal" fill="#111" letter-spacing="-0.2">UPN22,</text>
<path d="M386.5 436.9 L403.5 436.9" fill="none" stroke="#a80434" stroke-width="1.0" stroke-opacity="0.85" stroke-dasharray="1 1.2"/>
<use href="#m5" transform="translate(395 436.9) scale(1.15)"/>
<text x="406.9" y="439.8" font-size="8.3" text-anchor="start" font-weight="normal" fill="#111" letter-spacing="-0.2">UPN23,</text>
<path d="M446.5 436.9 L463.5 436.9" fill="none" stroke="#a80434" stroke-width="1.0" stroke-opacity="0.85"/>
<use href="#m24" transform="translate(455 436.9) scale(1.15)"/>
<text x="467.5" y="439.8" font-size="8.3" text-anchor="start" font-weight="normal" fill="#111" letter-spacing="-0.2">UPN24,</text>
<path d="M23 449.5 L40 449.5" fill="none" stroke="#a80434" stroke-width="1.0" stroke-opacity="0.85"/>
<use href="#m25" transform="translate(31.5 449.5) scale(1.15)"/>
<text x="43.7" y="452.4" font-size="8.3" text-anchor="start" font-weight="normal" fill="#111" letter-spacing="-0.2">UPN25.</text>
</svg>
</body></html>
